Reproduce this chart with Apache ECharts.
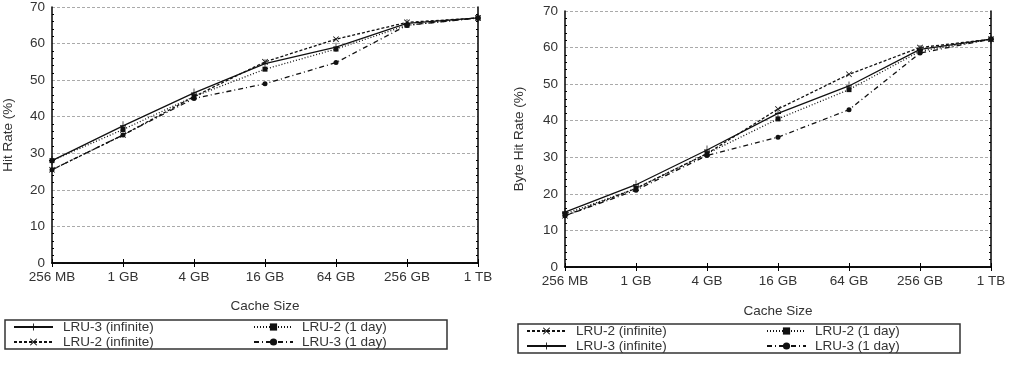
<!DOCTYPE html>
<html>
<head>
<meta charset="utf-8">
<script src="https://cdn.jsdelivr.net/npm/echarts@6/dist/echarts.min.js"></script>
<style>
  html, body { margin: 0; padding: 0; background: #fff; }
  #chart { width: 1014px; height: 375px; }
</style>
</head>
<body>
<div id="chart"></div>
<script>
// cache sizes on the x axis
const cacheSizes = ['256 MB', '1 GB', '4 GB', '16 GB', '64 GB', '256 GB', '1 TB'];

// left chart: hit rate (%)
const hitLru3Inf = [28, 37.5, 46.5, 54.5, 59, 65.5, 67];
const hitLru2Inf = [25.5, 35, 45.5, 55, 61.2, 65.8, 67];
const hitLru2Day = [28, 36.5, 45.5, 53, 58.5, 65, 67];
const hitLru3Day = [25.5, 35, 45, 49, 54.8, 65, 67];

// right chart: byte hit rate (%)
const byteLru2Inf = [14, 21.5, 31, 43.2, 52.7, 60, 62.3];
const byteLru3Inf = [15, 22.5, 32, 42, 49.5, 59.5, 62.3];
const byteLru2Day = [14.5, 21.5, 31, 40.5, 48.5, 59, 62.3];
const byteLru3Day = [14, 21, 30.5, 35.5, 43, 58.5, 62.3];

const FONT = 'Liberation Sans, Arial, sans-serif';
const TEXT = '#333';
const FS = 13.5;

// gnuplot-like marker shapes (filled paths)
const styles = {
  'LRU-3 (infinite)': { type: 'solid', symbol: 'path://M4.4,0H5.6V4.4H10V5.6H5.6V10H4.4V5.6H0V4.4H4.4Z', size: [6, 9] },
  'LRU-2 (infinite)': { type: [3, 2], symbol: 'path://M0,1L1,0L5,4L9,0L10,1L6,5L10,9L9,10L5,6L1,10L0,9L4,5Z', size: 6 },
  'LRU-2 (1 day)': { type: [1, 2], symbol: 'rect', size: 5 },
  'LRU-3 (1 day)': { type: [5, 3, 1, 3], symbol: 'circle', size: 5 },
};

function mkSeries(name, data, idx) {
  const s = styles[name];
  return {
    name: name,
    type: 'line',
    xAxisIndex: idx,
    yAxisIndex: idx,
    data: data,
    symbol: s.symbol,
    symbolSize: s.size,
    showAllSymbol: true,
    itemStyle: { color: '#111' },
    lineStyle: { color: '#111', width: 1.3, type: s.type },
    animation: false,
  };
}

const grids = [
  { left: 52, top: 6, width: 426, height: 257 },
  { left: 565, top: 11, width: 426, height: 256 },
];
const yNames = ['Hit Rate (%)', 'Byte Hit Rate (%)'];
const yNameGaps = [37, 39];
const xNameGaps = [36, 37];

function axisLine() {
  return { show: true, lineStyle: { color: '#000', width: 1.5 } };
}

const xAxes = [];
const yAxes = [];
[0, 1].forEach((g) => {
  xAxes.push({
    type: 'category',
    gridIndex: g,
    data: cacheSizes,
    boundaryGap: false,
    position: 'bottom',
    name: 'Cache Size',
    nameLocation: 'middle',
    nameGap: xNameGaps[g],
    nameTextStyle: { fontFamily: FONT, fontSize: FS, color: TEXT },
    axisLine: axisLine(),
    axisTick: { inside: true, length: 4, lineStyle: { color: '#000' } },
    axisLabel: { fontFamily: FONT, fontSize: FS, color: TEXT, margin: 7 },
    splitLine: { show: false },
  });
  yAxes.push({
    type: 'value',
    gridIndex: g,
    min: 0,
    max: 70,
    interval: 10,
    position: 'left',
    name: yNames[g],
    nameLocation: 'middle',
    nameGap: yNameGaps[g],
    nameTextStyle: { fontFamily: FONT, fontSize: FS, color: TEXT },
    axisLine: axisLine(),
    axisTick: { inside: true, length: 4, lineStyle: { color: '#000' } },
    minorTick: { show: true, splitNumber: 5, length: 2, lineStyle: { color: '#000' } },
    axisLabel: { fontFamily: FONT, fontSize: FS, color: TEXT, margin: 7 },
    splitLine: { show: true, lineStyle: { color: '#aaa', type: [3, 2], width: 1 } },
  });
});
// mirrored axes for the top / right frame with inside ticks
[0, 1].forEach((g) => {
  xAxes.push({
    type: 'category',
    gridIndex: g,
    data: cacheSizes,
    boundaryGap: false,
    position: 'top',
    axisLine: axisLine(),
    axisTick: { inside: true, length: 4, lineStyle: { color: '#000' } },
    axisLabel: { show: false },
    splitLine: { show: false },
  });
  yAxes.push({
    type: 'value',
    gridIndex: g,
    min: 0,
    max: 70,
    interval: 10,
    position: 'right',
    axisLine: axisLine(),
    axisTick: { inside: true, length: 4, lineStyle: { color: '#000' } },
    minorTick: { show: true, splitNumber: 5, length: 2, lineStyle: { color: '#000' } },
    axisLabel: { show: false },
    splitLine: { show: false },
  });
});

// two-column legend: first-column labels get a wide text box
function mkLegend(left, top, names) {
  return {
    left: left,
    top: top,
    width: 420,
    orient: 'horizontal',
    data: names,
    itemWidth: 39,
    itemHeight: 9,
    itemGap: 1,
    padding: [0, 55, 0, 8],
    borderColor: '#333',
    borderWidth: 1.5,
    borderRadius: 0,
    selectedMode: false,
    formatter: (name) => (name === names[0] || name === names[2] ? '{a|' + name + '}' : '{b|' + name + '}'),
    textStyle: {
      fontFamily: FONT,
      fontSize: FS,
      color: TEXT,
      rich: {
        a: { width: 189, padding: [0, 0, 0, 5], fontFamily: FONT, fontSize: FS, color: TEXT, lineHeight: 13 },
        b: { width: 90, padding: [0, 0, 0, 4], fontFamily: FONT, fontSize: FS, color: TEXT, lineHeight: 13 },
      },
    },
    itemStyle: { color: '#111' },
  };
}

const series = [
  mkSeries('LRU-3 (infinite)', hitLru3Inf, 0),
  mkSeries('LRU-2 (infinite)', hitLru2Inf, 0),
  mkSeries('LRU-2 (1 day)', hitLru2Day, 0),
  mkSeries('LRU-3 (1 day)', hitLru3Day, 0),
  mkSeries('LRU-2 (infinite)', byteLru2Inf, 1),
  mkSeries('LRU-3 (infinite)', byteLru3Inf, 1),
  mkSeries('LRU-2 (1 day)', byteLru2Day, 1),
  mkSeries('LRU-3 (1 day)', byteLru3Day, 1),
];

const myChart = echarts.init(document.getElementById('chart'));
myChart.setOption({
  animation: false,
  backgroundColor: '#fff',
  grid: grids,
  xAxis: xAxes,
  yAxis: yAxes,
  legend: [
    mkLegend(5, 320, ['LRU-3 (infinite)', 'LRU-2 (1 day)', 'LRU-2 (infinite)', 'LRU-3 (1 day)']),
    mkLegend(518, 324, ['LRU-2 (infinite)', 'LRU-2 (1 day)', 'LRU-3 (infinite)', 'LRU-3 (1 day)']),
  ],
  series: series,
});
</script>
</body>
</html>
